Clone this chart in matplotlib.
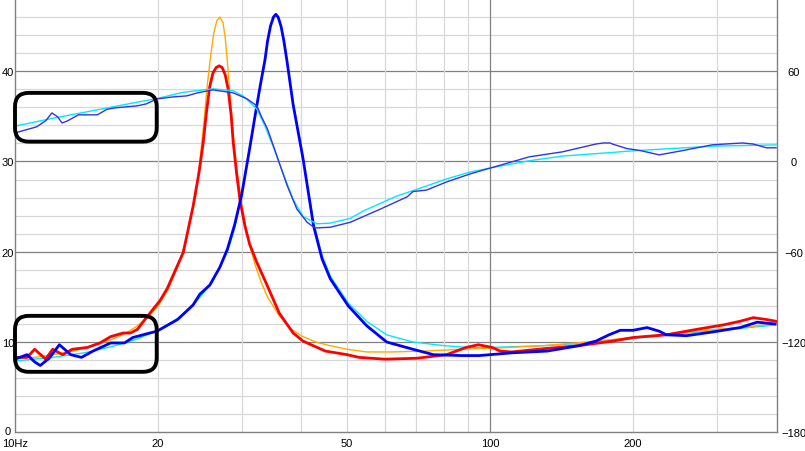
import numpy as np
import matplotlib.pyplot as plt
import matplotlib.transforms as mtransforms
from matplotlib.patches import FancyBboxPatch

plt.rcParams['font.family'] = ['Liberation Sans', 'DejaVu Sans']

# impedance, driver 1 - model (orange)
f_z1_model = [10, 11, 12, 13, 14, 15, 16, 17, 18, 19, 20, 21, 22, 23, 24, 24.5, 25, 25.4, 25.8,
              26.2, 26.6, 27.0, 27.4, 27.7, 28.0, 28.4, 28.8, 29.2, 30, 31, 32, 33, 34, 36, 38,
              40, 43, 46, 50, 55, 62, 73, 87, 100, 110, 130, 160, 200, 250, 300, 350, 400]
z1_model = [8.2, 8.3, 8.6, 8.9, 9.3, 9.8, 10.3, 10.9, 11.7, 12.7, 14.0, 15.8, 18.3, 21.6, 26.2,
            30.0, 34.5, 38.5, 41.6, 44.2, 45.6, 46.0, 45.4, 43.7, 41.0, 37.0, 33.0, 29.8, 25.2,
            21.2, 18.6, 16.6, 15.0, 12.9, 11.5, 10.7, 10.0, 9.6, 9.2, 8.9, 8.9, 9.0, 9.2, 9.3,
            9.4, 9.6, 10.0, 10.5, 11.0, 11.4, 11.7, 12.0]

# impedance, driver 1 - measured (red)
f_z1_meas = [10, 10.6, 11.0, 11.6, 12.0, 12.6, 13.2, 14.2, 15.1, 15.9, 16.9, 17.5, 18.1, 18.9, 20.2,
             20.9, 22.2, 22.6, 23.7, 24.4, 24.9, 25.3, 25.7, 26.1, 26.5, 26.9, 27.3, 27.7, 28.1,
             28.5, 28.8, 29.3, 29.8, 30.5, 31.2, 32.3, 33.8, 36, 38.5, 40.4, 45, 50, 53, 60, 70,
             81, 89, 94.5, 101, 105, 111, 132, 154, 181, 200, 235, 272, 310, 336, 358, 381, 400]
z1_meas = [8.3, 8.3, 9.2, 8.1, 9.2, 8.6, 9.2, 9.4, 9.9, 10.6, 11.0, 11.0, 11.4, 12.7, 14.6,
           15.9, 19.0, 19.9, 25.0, 28.8, 32.1, 35.5, 38.3, 39.8, 40.4, 40.6, 40.4, 39.6, 38.0,
           35.2, 32.1, 28.5, 25.5, 22.8, 20.8, 18.8, 16.5, 13.2, 11.0, 10.1, 9.0, 8.6, 8.3, 8.1,
           8.2, 8.6, 9.4, 9.7, 9.4, 9.0, 8.9, 9.3, 9.6, 10.1, 10.5, 10.8, 11.4, 11.9, 12.3, 12.7,
           12.5, 12.3]

# impedance, driver 2 - model (cyan)
f_z2_model = [10, 12, 14, 16, 18, 20, 22, 24, 26, 28, 29, 30, 31.2, 32.0, 32.8, 33.6, 34.0, 34.5,
              35.0, 35.4, 35.8, 36.3, 36.8, 37.4, 38.5, 40.4, 42.5, 44.3, 46.1, 50.3, 55, 60.6,
              68.8, 80, 90, 100, 130, 160, 200, 250, 300, 350, 400]
z2_model = [7.9, 8.3, 8.8, 9.5, 10.3, 11.3, 12.6, 14.4, 16.6, 20.0, 22.6, 26.3, 31.5, 35.0, 38.3,
            41.3, 43.3, 45.0, 46.0, 46.3, 46.0, 45.0, 43.4, 41.0, 36.5, 30.3, 23.2, 19.6, 17.3,
            14.3, 12.3, 10.8, 10.0, 9.6, 9.4, 9.4, 9.6, 9.9, 10.4, 10.9, 11.3, 11.6, 11.9]

# impedance, driver 2 - measured (blue)
f_z2_meas = [10, 10.6, 11.0, 11.3, 11.8, 12.4, 13.1, 13.8, 14.6, 15.9, 17.0, 17.7, 18.9, 19.9, 22,
             23.7, 24.5, 25.7, 27, 28, 29, 30, 31.2, 32.0, 32.8, 33.6, 34.0, 34.5, 35.0, 35.4,
             35.8, 36.3, 36.8, 37.4, 38.5, 40.4, 42.5, 44.3, 46.1, 50.3, 55, 60.6, 68.8, 76, 87,
             95, 111, 132, 154, 167, 178, 188, 200, 214, 227, 235, 259, 293, 336, 365, 398]
z2_meas = [8.1, 8.6, 7.8, 7.4, 8.2, 9.7, 8.6, 8.3, 9.0, 9.9, 9.9, 10.5, 10.9, 11.2, 12.5,
           14.1, 15.3, 16.3, 18.3, 20.3, 23.0, 26.3, 31.5, 35.0, 38.3, 41.3, 43.3, 45.0, 46.0,
           46.3, 46.0, 45.0, 43.4, 41.0, 36.3, 30.3, 22.9, 19.2, 17.0, 14.0, 11.8, 10.0, 9.2,
           8.6, 8.5, 8.5, 8.8, 9.0, 9.6, 10.1, 10.8, 11.3, 11.3, 11.6, 11.2, 10.8, 10.7, 11.1,
           11.6, 12.2, 12.0]

# phase (degrees) - model (cyan)
f_ph_model = [10, 12, 14, 16, 18, 20, 22.6, 26.1, 28.8, 30.2, 32.3, 33.6, 34.9, 36.6, 38.5, 40.4,
              43.2, 46, 50.8, 54, 63.6, 70, 81, 90.8, 100.5, 121, 142, 179, 200, 294, 400]
ph_model = [23.5, 28.7, 32.7, 36.2, 39.3, 42.0, 46.0, 48.3, 47.0, 43.6, 34.8, 23.4, 10.4, -7.2,
            -25.2, -36.6, -41.4, -41.0, -37.8, -33.0, -23.0, -18.6, -11.6, -7.0, -4.2, 0.5, 3.6,
            5.9, 7.1, 10.2, 11.0]

# phase (degrees) - measured (blue)
f_ph_meas = [10, 10.7, 11.1, 11.6, 11.96, 12.3, 12.56, 12.9, 13.6, 14.9, 15.6, 16.2, 18.1, 18.9,
             19.9, 21.5, 23.0, 24.2, 26.1, 28.8, 30.8, 32.3, 33.0, 34, 35.6, 37.4, 39.2, 41.2,
             42.8, 46.1, 50.8, 58.7, 66.9, 68.8, 73.5, 81, 90.7, 100.5, 121, 142, 167, 173, 179,
             181, 194, 207, 227, 251, 294, 340, 358, 382, 400]
ph_meas = [19.0, 21.6, 23.0, 27.0, 32.3, 29.6, 25.6, 27.0, 31.0, 31.0, 34.6, 35.6, 37.0, 38.3,
           41.6, 42.9, 43.6, 45.6, 47.6, 45.6, 41.6, 37.0, 30.0, 21.6, 3.6, -16.0, -31.6, -40.4,
           -44.2, -43.7, -40.4, -31.7, -23.5, -20.0, -19.0, -13.6, -8.3, -4.2, 3.1, 6.4, 11.6,
           12.3, 12.3, 11.6, 8.6, 7.3, 4.4, 6.9, 11.1, 12.3, 11.6, 9.1, 9.1]

x_ticks = [10, 20, 50, 100, 200]
x_labels = ['10Hz', '20', '50', '100', '200']
y_ticks = [0, 10, 20, 30, 40]
ph_ticks = [-180, -120, -60, 0, 60]

dark = '#808080'
light = '#d8d8d8'

fig = plt.figure(figsize=(8.05, 4.52), dpi=100)
ax = fig.add_axes([15 / 805, 18.7 / 452, 762 / 805, 433.3 / 452])
ax.set_xscale('log')
ax.set_xlim(10, 401.8)
ax.set_ylim(0, 48)

# grid
for y in np.arange(2, 48, 2):
    ax.axhline(y, color=dark if y % 10 == 0 else light, lw=0.9, zorder=0)
for f in [20, 30, 40, 50, 60, 70, 80, 90, 200, 300]:
    ax.axvline(f, color=light, lw=0.9, zorder=0)
ax.axvline(100, color=dark, lw=0.9, zorder=0)

ax.set_xticks(x_ticks)
ax.set_xticklabels(x_labels)
ax.minorticks_off()
ax.set_yticks(y_ticks)
ax.tick_params(length=0, labelsize=8, colors='black')
ax.tick_params(axis='x', pad=4)
ax.tick_params(axis='y', pad=5)
ylabs = ax.get_yticklabels()
for lab in ylabs:
    lab.set_horizontalalignment('center')
# lift the "0" a little so it clears "10Hz"
ylabs[0].set_transform(ylabs[0].get_transform() +
                       mtransforms.ScaledTranslation(0, 2.5 / 100, fig.dpi_scale_trans))

for s in ['left', 'bottom', 'right']:
    ax.spines[s].set_color(dark)
    ax.spines[s].set_linewidth(1.0)
ax.spines['top'].set_visible(False)

ax.plot(f_z2_model, z2_model, color='#00e8ff', lw=1.0, zorder=3)
ax.plot(f_z1_model, z1_model, color='#ffaa00', lw=1.0, zorder=3)
ax.plot(f_z1_meas, z1_meas, color='#ff0000', lw=2.0, zorder=4)
ax.plot(f_z2_meas, z2_meas, color='#0000ff', lw=2.0, zorder=4)

ax2 = ax.twinx()
ax2.set_ylim(-180, 108)
ax2.set_yticks(ph_ticks)
ax2.tick_params(length=0, labelsize=8, pad=12)
for lab in ax2.get_yticklabels():
    lab.set_horizontalalignment('center')
for s in ['left', 'bottom', 'right', 'top']:
    ax2.spines[s].set_visible(False)

ax2.plot(f_ph_model, ph_model, color='#00e8ff', lw=1.0)
ax2.plot(f_ph_meas, ph_meas, color='#3333e6', lw=1.0)

# rounded highlight boxes
aspect = 762 / 433.3
for y0, y1 in [(32.2 / 48, 37.6 / 48), (6.7 / 48, 12.9 / 48)]:
    box = FancyBboxPatch((0.0, y0), 0.186, y1 - y0,
                         boxstyle='round,pad=0,rounding_size=0.018',
                         mutation_aspect=aspect,
                         transform=ax2.transAxes, fill=False, ec='black', lw=2.8,
                         clip_on=False, zorder=10)
    ax2.add_patch(box)

fig.savefig('out.png', dpi=100)
